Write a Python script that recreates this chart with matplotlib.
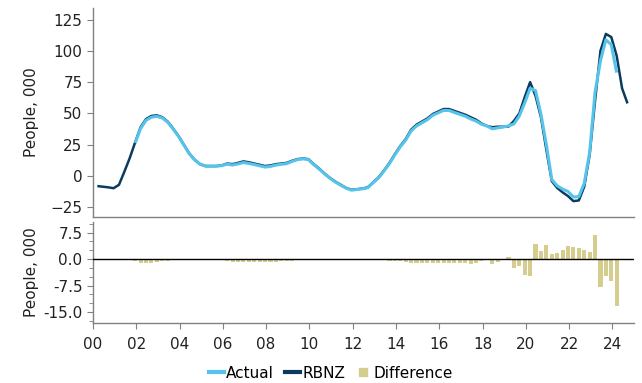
import numpy as np
import matplotlib
matplotlib.use("Agg")
import matplotlib.pyplot as plt
from matplotlib.lines import Line2D
from matplotlib.ticker import MultipleLocator, FixedLocator

plt.rcParams['font.family'] = ['DejaVu Sans']

# Quarterly series starting 2000 Q1 (RBNZ) ; values in thousands of people
start_year = 2000.2
rbnz = [-8, -8.5, -9, -9.7, -7, 3.5, 14.5, 27, 39, 45.5,
        48, 48.5, 47, 43.5, 38, 32, 25, 18, 13, 9.5,
        8, 8, 8, 8.5, 10, 9.5, 10.5, 11.7, 11, 10,
        9, 8, 8.5, 9.5, 10, 10.5, 12.2, 13.5, 14, 13.5,
        9.5, 6, 2, -1.5, -4.5, -7, -9.5, -11, -10.5, -10,
        -9, -5, -1, 4.5, 10.5, 17.5, 24, 29.5, 37, 41,
        43.5, 46, 49.5, 51.5, 53.5, 53.5, 52, 50.5, 49, 47,
        45, 42, 40, 39, 39.4, 39.4, 39.5, 44, 50, 63,
        75, 64, 47, 21, -4, -9.5, -13, -16, -20, -19.5,
        -8.5, 17, 60, 100, 113.5, 111, 96, 70, 58]

# Difference (Actual - RBNZ), starting at quarter index 7
diff_start = 7
difference = [-0.6, -1.0, -1.0, -1.0, -0.8, -0.6, -0.5, -0.4, -0.3,
              -0.3, -0.2, -0.2, -0.1, -0.1, -0.2, -0.1, -0.2,
              -0.5, -0.7, -0.8, -0.9, -0.9, -0.8, -0.8, -0.8, -0.8, -0.7, -0.6, -0.6,
              -0.5, -0.4, -0.3, -0.3, -0.4, -0.4, -0.3, -0.3, -0.3, -0.3, -0.2, -0.3,
              -0.2, -0.2, -0.3, -0.3, -0.4, -0.4, -0.5, -0.5,
              -0.6, -0.8, -1.0, -1.0, -1.0, -1.0, -1.0, -1.0, -1.1, -1.1, -1.2, -1.2,
              -1.2, -1.4, -1.1, -0.6,
              0.0, -1.3, -0.9, -0.3, 0.6, -2.4, -2.0, -4.5, -4.9,
              4.2, 2.3, 4.0, 1.3, 1.7, 2.6, 3.7, 3.3, 3.1, 2.6, 1.9, 6.8,
              -7.9, -4.7, -6.1, -13.4]

xtick_years = list(range(2000, 2025, 2))
xtick_labels = [f"{y % 100:02d}" for y in xtick_years]

c_actual = '#55c3ea'
c_rbnz = '#0b3c5d'
c_diff = '#d4cd8e'
spine_c = '#808080'

t = start_year + 0.25 * np.arange(len(rbnz))
rb = np.array(rbnz, dtype=float)
d = np.array(difference, dtype=float)
ta = t[diff_start:diff_start + len(d)]
actual = rb[diff_start:diff_start + len(d)] + d

fig = plt.figure(figsize=(6.42, 3.83), dpi=100)
W, H = 642, 383
def rect(x0, y0, x1, y1):
    return [x0 / W, 1 - y1 / H, (x1 - x0) / W, (y1 - y0) / H]

ax1 = fig.add_axes(rect(93, 8, 634, 217))
ax2 = fig.add_axes(rect(93, 222, 634, 323))

ax1.plot(t, rb, color=c_rbnz, lw=1.8, solid_capstyle='butt', zorder=2)
ax1.plot(ta, actual, color=c_actual, lw=2.2, solid_capstyle='butt', zorder=3)
ax1.set_xlim(2000, 2025)
ax1.set_ylim(-32.7, 134.2)
ax1.yaxis.set_major_locator(MultipleLocator(25))
ax1.set_xticks([])

ax2.bar(ta, d, width=0.19, color=c_diff, zorder=2)
ax2.axhline(0, color='black', lw=1.0, zorder=3)
ax2.set_xlim(2000, 2025)
ax2.set_ylim(-18.1, 10.5)
ax2.yaxis.set_major_locator(FixedLocator([-15, -7.5, 0, 7.5]))
ax2.yaxis.set_minor_locator(MultipleLocator(2.5))
ax2.set_yticklabels(['-15.0', '-7.5', '0.0', '7.5'])
ax2.set_xticks(xtick_years)
ax2.set_xticklabels(xtick_labels)

for ax in (ax1, ax2):
    for s in ('top', 'right'):
        ax.spines[s].set_visible(False)
    for s in ('left', 'bottom'):
        ax.spines[s].set_color(spine_c)
        ax.spines[s].set_linewidth(1.0)
    ax.tick_params(axis='both', which='both', color=spine_c, labelsize=11,
                   labelcolor='#222222', direction='out')
    ax.tick_params(axis='both', which='major', length=4)
    ax.tick_params(axis='y', which='minor', length=3)
    ax.set_ylabel('People, 000', fontsize=11, color='#222222')

ax1.yaxis.set_label_coords(-0.1, 0.5)
ax2.yaxis.set_label_coords(-0.1, 0.5)
ax2.tick_params(axis='x', pad=6)

handles = [Line2D([], [], color=c_actual, lw=3),
           Line2D([], [], color=c_rbnz, lw=3),
           Line2D([], [], color=c_diff, marker='s', ls='none', markersize=6)]
fig.legend(handles, ['Actual', 'RBNZ', 'Difference'], loc='center',
           bbox_to_anchor=(0.515, 1 - 373 / H), ncol=3, frameon=False,
           fontsize=11, handlelength=1.0, handletextpad=0.15, columnspacing=0.7,
           borderaxespad=0)

fig.savefig('out.png', dpi=100)
